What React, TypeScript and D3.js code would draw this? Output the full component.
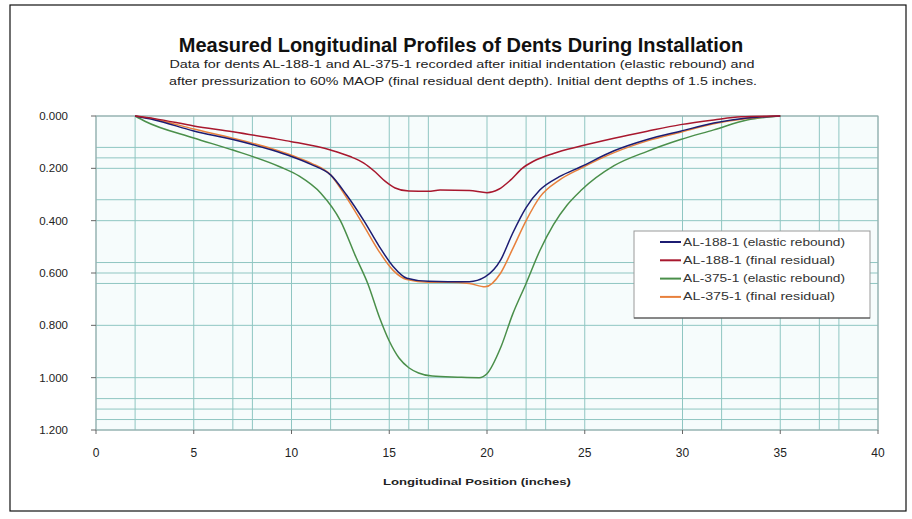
import React from "react";
import * as d3 from "d3";

const TITLE = "Measured Longitudinal Profiles of Dents During Installation";
const SUBTITLE1 = "Data for dents AL-188-1 and AL-375-1 recorded after initial indentation (elastic rebound) and";
const SUBTITLE2 = "after pressurization to 60% MAOP (final residual dent depth).  Initial dent depths of 1.5 inches.";
const X_LABEL = "Longitudinal Position (inches)";

const xTicks = [0, 5, 10, 15, 20, 25, 30, 35, 40];
const yTicks = [0, 0.2, 0.4, 0.6, 0.8, 1.0, 1.2];
const xGrid = [0, 2, 5, 7, 8, 10, 12, 15, 16, 17, 20, 22, 23, 25, 30, 32, 35, 37, 38, 40];
const yGrid = [0, 0.12, 0.16, 0.2, 0.32, 0.4, 0.56, 0.6, 0.64, 0.8, 1.0, 1.08, 1.12, 1.16, 1.2];

const seriesNames = [
  "AL-188-1 (elastic rebound)",
  "AL-188-1 (final residual)",
  "AL-375-1 (elastic rebound)",
  "AL-375-1 (final residual)",
];
const seriesColors = ["#1c1c72", "#a8182e", "#4a8f4a", "#e8803c"];
const legendTextWidths = [162, 152, 162, 152];

const al188ElasticX = [2, 3, 5, 7, 9, 10, 11, 12, 12.8, 13.7, 14.5, 15.2, 15.9, 17, 18, 19.1, 19.9, 20.7, 21.3, 22, 22.7, 23.7, 24.8, 26.5, 28.2, 29.9, 31.6, 33.3, 35];
const al188ElasticY = [0, 0.015, 0.057, 0.09, 0.13, 0.155, 0.185, 0.225, 0.3, 0.4, 0.5, 0.575, 0.62, 0.632, 0.633, 0.633, 0.615, 0.55, 0.45, 0.35, 0.283, 0.232, 0.194, 0.133, 0.09, 0.058, 0.027, 0.008, 0];

const al188FinalX = [2, 3, 5, 7, 9, 10, 12, 13, 13.7, 14.3, 14.8, 15.3, 16, 17, 17.6, 19.1, 20, 20.6, 21.2, 21.8, 22.4, 23.4, 24.8, 26.5, 28.2, 29.9, 31.6, 33, 35];
const al188FinalY = [0, 0.01, 0.038, 0.06, 0.085, 0.098, 0.13, 0.155, 0.18, 0.215, 0.25, 0.275, 0.287, 0.288, 0.283, 0.285, 0.293, 0.28, 0.245, 0.2, 0.172, 0.143, 0.115, 0.085, 0.058, 0.033, 0.015, 0.003, 0];

const al375ElasticX = [2, 2.5, 5, 7, 9.4, 10.4, 11.5, 12.5, 13.3, 13.9, 14.5, 15, 15.5, 16, 16.5, 17.2, 18.5, 19.6, 20, 20.7, 21.3, 22, 22.7, 23.4, 24.1, 24.8, 26.5, 28.2, 29.9, 31.6, 33.3, 35];
const al375ElasticY = [0, 0.02, 0.084, 0.13, 0.194, 0.23, 0.295, 0.4, 0.54, 0.64, 0.77, 0.86, 0.925, 0.962, 0.982, 0.994, 0.998, 1.0, 0.985, 0.885, 0.76, 0.64, 0.515, 0.415, 0.34, 0.285, 0.19, 0.135, 0.09, 0.053, 0.015, 0];

const al375FinalX = [2, 3, 5, 7, 9, 10, 11, 12, 12.8, 13.7, 14.5, 15.2, 15.9, 17, 18, 19.1, 19.9, 20.7, 21.3, 22, 22.7, 23.7, 24.8, 26.5, 28.2, 29.9, 31.6, 33.3, 35];
const al375FinalY = [0, 0.012, 0.05, 0.085, 0.125, 0.15, 0.18, 0.225, 0.31, 0.42, 0.52, 0.59, 0.625, 0.635, 0.635, 0.64, 0.653, 0.6, 0.51, 0.4, 0.31, 0.245, 0.2, 0.14, 0.095, 0.062, 0.03, 0.01, 0];

const seriesX = [al188ElasticX, al188FinalX, al375ElasticX, al375FinalX];
const seriesY = [al188ElasticY, al188FinalY, al375ElasticY, al375FinalY];

const W = 912;
const H = 519;
const FONT = "'Liberation Sans', Arial, sans-serif";

export default function App() {
  const x = d3.scaleLinear().domain([0, 40]).range([96, 878]);
  const y = d3.scaleLinear().domain([0, 1.2]).range([116, 430]);
  const line = d3
    .line<[number, number]>()
    .x((d) => x(d[0]))
    .y((d) => y(d[1]))
    .curve(d3.curveMonotoneX);

  const drawOrder = [2, 3, 0, 1];

  return (
    <svg width={W} height={H} style={{ position: "absolute", left: 0, top: 0, background: "#fff" }}>
      <rect x={10} y={5} width={896} height={506} fill="#fff" stroke="#111" strokeWidth={1.2} />
      <text x={461} y={52} textAnchor="middle" fontFamily={FONT} fontWeight="bold" fontSize={20} fill="#111">
        {TITLE}
      </text>
      <text x={462} y={68} textAnchor="middle" fontFamily={FONT} fontSize={10} fill="#222" textLength={585} lengthAdjust="spacingAndGlyphs">
        {SUBTITLE1}
      </text>
      <text x={463} y={85} textAnchor="middle" fontFamily={FONT} fontSize={10} fill="#222" textLength={588} lengthAdjust="spacingAndGlyphs">
        {SUBTITLE2}
      </text>

      <rect x={x(0)} y={y(0)} width={x(40) - x(0)} height={y(1.2) - y(0)} fill="#f6fcfc" />
      {xGrid.map((v) => (
        <line key={"xg" + v} x1={x(v)} x2={x(v)} y1={y(0)} y2={y(1.2)} stroke="#8fc6c2" strokeWidth={1} />
      ))}
      {yGrid.map((v) => (
        <line key={"yg" + v} x1={x(0)} x2={x(40)} y1={y(v)} y2={y(v)} stroke="#8fc6c2" strokeWidth={1} />
      ))}
      <rect x={x(0)} y={y(0)} width={x(40) - x(0)} height={y(1.2) - y(0)} fill="none" stroke="#9aa" strokeWidth={1} />

      {yTicks.map((v) => (
        <g key={"yt" + v}>
          <line x1={x(0) - 5} x2={x(0)} y1={y(v)} y2={y(v)} stroke="#666" />
          <text x={x(0) - 28} y={y(v) + 4} textAnchor="end" fontFamily={FONT} fontSize={11.5} fill="#222">
            {d3.format(".3f")(v)}
          </text>
        </g>
      ))}
      {xTicks.map((v) => (
        <g key={"xt" + v}>
          <line x1={x(v)} x2={x(v)} y1={y(1.2)} y2={y(1.2) + 4} stroke="#666" />
          <text x={x(v)} y={457} textAnchor="middle" fontFamily={FONT} fontSize={12} fill="#222">
            {v}
          </text>
        </g>
      ))}
      <text x={477} y={485} textAnchor="middle" fontFamily={FONT} fontWeight="bold" fontSize={9.5} fill="#222" textLength={188} lengthAdjust="spacingAndGlyphs">
        {X_LABEL}
      </text>

      {drawOrder.map((i) => {
        const pts = seriesX[i].map((xv, j) => [xv, seriesY[i][j]] as [number, number]);
        return <path key={"s" + i} d={line(pts) || ""} fill="none" stroke={seriesColors[i]} strokeWidth={1.5} />;
      })}

      <rect x={634} y={231} width={236} height={87} fill="#fff" stroke="#999" strokeWidth={1} />
      <line x1={634} x2={870} y1={318} y2={318} stroke="#444" strokeWidth={1.2} />
      {seriesNames.map((name, i) => {
        const ly = 242 + i * 18.3;
        return (
          <g key={"lg" + i}>
            <line x1={660} x2={681} y1={ly} y2={ly} stroke={seriesColors[i]} strokeWidth={2} />
            <text x={683} y={ly + 3.5} fontFamily={FONT} fontSize={10} fill="#333" textLength={legendTextWidths[i]} lengthAdjust="spacingAndGlyphs">
              {name}
            </text>
          </g>
        );
      })}
    </svg>
  );
}
